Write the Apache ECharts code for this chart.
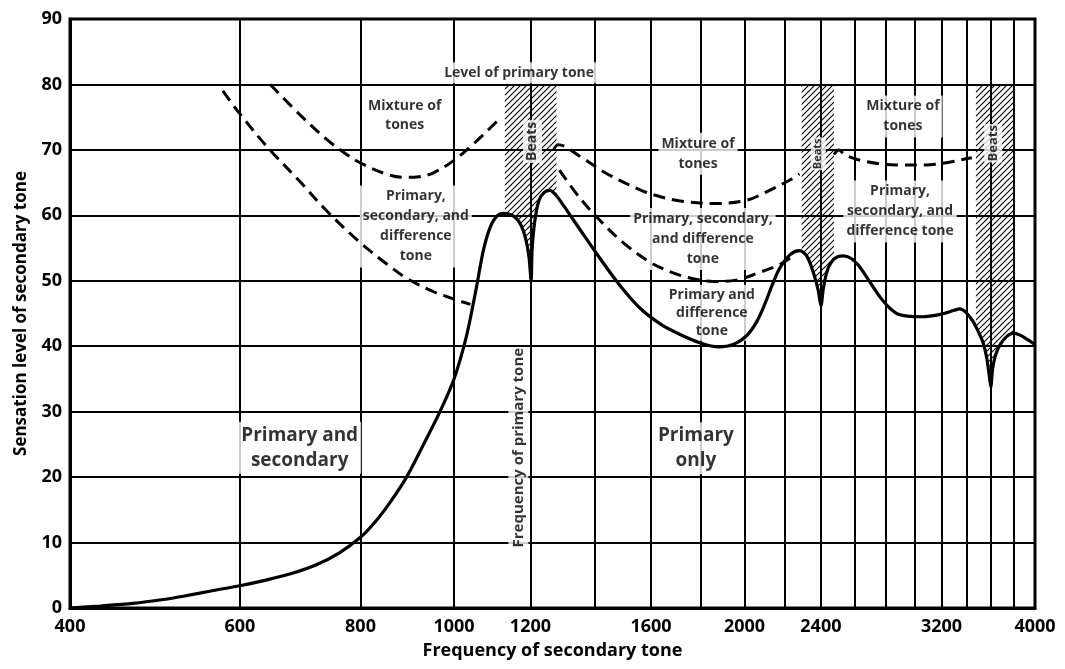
<!DOCTYPE html>
<html><head><meta charset="utf-8">
<script src="https://cdn.jsdelivr.net/npm/echarts@6/dist/echarts.min.js"></script>
<style>html,body{margin:0;padding:0;background:#fff}#c{width:1065px;height:669px}</style>
</head><body><div id="c"></div>
<script>
// ---- data ----
const gridFreqs = [400,600,800,1000,1200,1400,1600,1800,2000,2200,2400,2600,2800,3000,3200,3400,3600,3800,4000];
const freqLabels = [400,600,800,1000,1200,1600,2000,2400,3200,4000];
const primaryLevel = 80;

const thresholdCurve = [
  [400,0],[430,0.3],[465,0.7],[500,1.3],[524,1.8],[560,2.6],[600,3.4],[640,4.3],[680,5.3],[720,6.6],
  [760,8.4],[800,10.8],[830,13.3],[860,16.3],[893,20],[930,25],[967,30],[1000,35],
  [1030,41.5],[1055,49],[1072,54.5],[1089,58],[1105,59.7],[1124,60.3],[1145,60.1],
  [1161,59.5],[1175,58.3],[1187,56.3],[1196,53.6],[1202,50],[1205,55],[1213,59.3],[1225,62.3],
  [1240,63.5],[1257,63.8],[1275,63.1],[1300,61.4],[1351,57.8],[1417,53.4],[1480,49.6],[1559,45.8],
  [1640,43.3],[1715,41.8],[1800,40.5],[1880,39.9],[1950,40.3],[2010,41.6],[2060,43.8],[2100,46.5],
  [2140,49.6],[2177,52],[2230,54],[2280,54.6],[2320,53.8],[2360,51],[2385,48.5],[2400,46.2],
  [2415,49],[2440,51.8],[2480,53.4],[2530,53.8],[2580,53.4],[2630,52.2],[2676,50.6],[2720,49],
  [2764,47.5],[2820,46],[2875,45],[2950,44.6],[3050,44.5],[3200,44.9],[3300,45.5],[3344,45.7],
  [3390,45.2],[3450,43.8],[3500,42],[3535,40.5],[3565,38.2],[3590,35],[3600,33.8],[3615,36.5],
  [3640,38.6],[3679,40.2],[3740,41.5],[3800,42],[3860,41.7],[3930,41],[3985,40.4],[4000,40]
];

const mixLeftUpper = [[645,80],[692,75.4],[738,71.6],[774,69.3],[800,68],[851,66.3],[890,65.8],[920,65.9],[952,66.5],[1000,68.4],[1047,70.9],[1107,74.3],[1120,75]];
const mixLeftLower = [[576,79],[600,75.5],[640,70.5],[692,65.2],[740,60.5],[800,55.8],[851,52.6],[893,50.4],[950,48.4],[1000,47.2],[1040,46.4]];
const mixMidUpper = [[1270,70.2],[1282,70.8],[1351,69],[1439,66.4],[1559,63.9],[1640,62.8],[1715,62.2],[1857,61.8],[2010,62.3],[2108,63.6],[2229,65.4],[2280,66.3]];
const mixMidLower = [[1286,66.9],[1351,62.6],[1417,59.2],[1498,55.8],[1598,52.8],[1687,51.2],[1760,50.4],[1857,49.9],[1960,50.1],[2075,51.3],[2177,52.5],[2240,53.7]];
const mixRight = [[2476,69.3],[2505,70],[2543,69.2],[2676,68.2],[2875,67.7],[3078,67.7],[3225,68],[3384,68.6],[3440,68.8]];

const beatsBand1 = [[1129,60.2],[1161,59.5],[1187,56.3],[1202,50],[1205,55],[1225,62.3],[1257,63.8],[1277,63]];
const beatsBand2 = [[2292,54.5],[2330,53.5],[2360,51],[2385,48.5],[2400,46.2],[2415,49],[2440,51.8],[2476,53.3]];
const beatsBand3 = [[3474,43],[3500,42],[3535,40.5],[3565,38.2],[3590,35],[3600,33.8],[3615,36.5],[3640,38.6],[3679,40.2],[3740,41.5],[3798,42]];
const beatsBands = [beatsBand1, beatsBand2, beatsBand3];

// ---- styling / annotations ----
const FONT = '"Open Sans", "DejaVu Sans", sans-serif';
function hatchCanvas(){
  const s = 6, c = document.createElement('canvas');
  c.width = s; c.height = s;
  const g = c.getContext('2d');
  g.strokeStyle = '#000'; g.lineWidth = 1.1;
  g.beginPath();
  g.moveTo(0, s); g.lineTo(s, 0);
  g.moveTo(-1, 1); g.lineTo(1, -1);
  g.moveTo(s - 1, s + 1); g.lineTo(s + 1, s - 1);
  g.stroke();
  return c;
}
const hatch = hatchCanvas();

function note(pos, text, size, opts){
  return {
    value: pos,
    label: Object.assign({
      show: true, position: 'inside', formatter: text, fontSize: size, fontFamily: FONT,
      fontWeight: 'bold', color: '#000', backgroundColor: '#fff', padding: [1, 3],
      lineHeight: Math.round(size * 1.35), align: 'center', verticalAlign: 'middle'
    }, opts || {})
  };
}
const notes = [
  note([1168, 81.8], 'Level of primary tone', 14),
  note([889, 75.3], 'Mixture of\ntones', 14),
  note([913, 58.3], 'Primary,\nsecondary, and\ndifference\ntone', 14, {lineHeight: 20}),
  note([692, 24.5], 'Primary and\nsecondary', 19, {lineHeight: 25}),
  note([1781, 24.4], 'Primary\nonly', 19, {lineHeight: 25}),
  note([1790, 69.4], 'Mixture of\ntones', 14, {lineHeight: 20}),
  note([1811, 56.4], 'Primary, secondary,\nand difference\ntone', 14, {lineHeight: 20}),
  note([1850, 45.1], 'Primary and\ndifference\ntone', 14, {lineHeight: 18}),
  note([2919, 75.1], 'Mixture of\ntones', 14, {lineHeight: 20}),
  note([2899, 60.6], 'Primary,\nsecondary, and\ndifference tone', 14, {lineHeight: 20}),
  note([1166, 24.5], 'Frequency of primary tone', 15, {rotate: 90, lineHeight: 16, padding: [2, 1]}),
  note([1206, 71.3], 'Beats', 14, {rotate: 90, padding: [0, 2]}),
  note([2385, 69.4], 'Beats', 11, {rotate: 90, padding: [0, 1]}),
  note([3620, 71], 'Beats', 13, {rotate: 90, padding: [0, 1]})
];

const dashed = (data) => ({
  type: 'line', data, showSymbol: false, smooth: 0.35, z: 4, silent: true,
  lineStyle: {color: '#000', width: 3, type: [12, 7]}
});

const labelText = {fontSize: 18, fontFamily: FONT, fontWeight: 'bold', color: '#000'};

const chart = echarts.init(document.getElementById('c'), null, {renderer: 'canvas'});
chart.setOption({
  animation: false,
  backgroundColor: '#fff',
  grid: {left: 70, right: 30, top: 19, bottom: 61, show: true, borderColor: '#000', borderWidth: 3, containLabel: false, outerBoundsMode: 'none'},
  xAxis: {
    type: 'log', logBase: 10, min: 400, max: 4000,
    name: 'Frequency of secondary tone', nameLocation: 'middle', nameGap: 34,
    nameTextStyle: Object.assign({}, labelText, {fontSize: 18}),
    axisLine: {show: true, lineStyle: {color: '#000', width: 3}},
    axisTick: {show: false, customValues: gridFreqs},
    axisLabel: Object.assign({customValues: freqLabels, margin: 10, formatter: v => String(Math.round(v))}, labelText),
    splitLine: {show: true, lineStyle: {color: '#000', width: 2}}
  },
  yAxis: {
    type: 'value', min: 0, max: 90, interval: 10,
    name: 'Sensation level of secondary tone', nameLocation: 'middle', nameGap: 40,
    nameTextStyle: Object.assign({}, labelText, {fontSize: 17}),
    axisLine: {show: true, lineStyle: {color: '#000', width: 3}},
    axisTick: {show: false},
    axisLabel: Object.assign({margin: 8}, labelText),
    splitLine: {show: true, lineStyle: {color: '#000', width: 2}}
  },
  series: [
    {
      type: 'custom', coordinateSystem: 'cartesian2d', z: 2, silent: true,
      data: beatsBands.map(b => [b[0][0], primaryLevel]),
      encode: {x: 0, y: 1},
      renderItem: (params, api) => {
        const band = beatsBands[params.dataIndex];
        const pts = band.map(p => api.coord(p));
        pts.push(api.coord([band[band.length - 1][0], primaryLevel]));
        pts.push(api.coord([band[0][0], primaryLevel]));
        return {type: 'polygon', shape: {points: pts}, style: {fill: {image: hatch, repeat: 'repeat'}, stroke: null}};
      }
    },
    {
      type: 'scatter', data: notes, symbolSize: 0, z: 3, silent: true
    },
    {
      type: 'line', data: thresholdCurve, showSymbol: false, smooth: 0.3, z: 5, silent: true,
      lineStyle: {color: '#000', width: 3.2}
    },
    dashed(mixLeftUpper), dashed(mixLeftLower), dashed(mixMidUpper), dashed(mixMidLower), dashed(mixRight)
  ]
});
</script>
</body></html>
